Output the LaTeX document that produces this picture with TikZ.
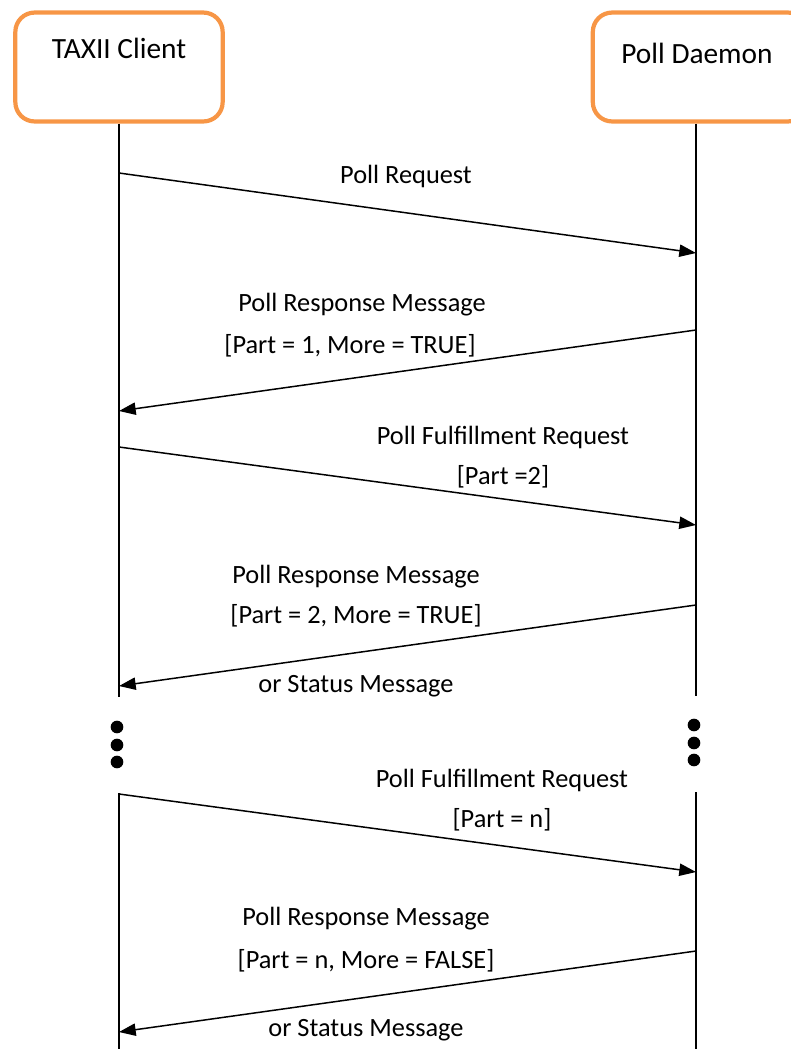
\documentclass[tikz,border=0pt]{standalone}
\usepackage{fontspec}
\setmainfont{Carlito}
\usetikzlibrary{arrows.meta}
\definecolor{boxorange}{HTML}{F79646}

\begin{document}
\begin{tikzpicture}[x=0.02cm, y=-0.02cm,
		actor/.style={draw=boxorange, line width=2.4pt, rounded corners=11pt, minimum width=118pt, minimum height=62pt, inner sep=0pt},
		lifeline/.style={line width=0.9pt},
		msg/.style={line width=0.85pt, -{Triangle[length=9.5pt, width=7pt]}},
		txt/.style={font=\fontsize{15pt}{18pt}\selectfont, inner sep=0pt},
		actortxt/.style={font=\fontsize{16.7pt}{20pt}\selectfont, inner sep=0pt},
		dot/.style={circle, fill=black, minimum size=7.2pt, inner sep=0pt}]
	\useasboundingbox (0,0) rectangle (791,1049);
	% \draw[very thin, gray, dashed](0,0)grid[step=50](791,1049);

	% the two parties
	\node[actor] (client) at (119,67) {};
	\node[actor, minimum width=122pt] (daemon) at (700,67) {};
	\node[actortxt] (clientname) at (119,48) {TAXII Client};
	\node[actortxt] (daemonname) at (697,53) {Poll Daemon};

	% lifelines, broken where the dots are
	\coordinate (c1) at (119,697);
	\coordinate (d1) at (696,696);
	\coordinate (c2) at (119,793);
	\coordinate (d2) at (696,792);
	\coordinate (cend) at (119,1049);
	\coordinate (dend) at (696,1049);
	\draw[lifeline] (client.south) -- (c1);
	\draw[lifeline] (daemon.south -| d1) -- (d1);
	\draw[lifeline] (c2) -- (cend);
	\draw[lifeline] (d2) -- (dend);

	\node[dot] (cdota) at (117,727) {};
	\node[dot] (cdotb) at (117,745) {};
	\node[dot] (cdotc) at (117,762) {};
	\node[dot] (ddota) at (694,725) {};
	\node[dot] (ddotb) at (694,743) {};
	\node[dot] (ddotc) at (694,760) {};

	% message ends on the lifelines
	\coordinate (req_from) at (119,173);
	\coordinate (req_to) at (696,253);
	\coordinate (resp1_from) at (696,330);
	\coordinate (resp1_to) at (119,411);
	\coordinate (ful2_from) at (119,447);
	\coordinate (ful2_to) at (696,525);
	\coordinate (resp2_from) at (696,605);
	\coordinate (resp2_to) at (119,686);
	\coordinate (fuln_from) at (119,794);
	\coordinate (fuln_to) at (696,872);
	\coordinate (respn_from) at (696,951);
	\coordinate (respn_to) at (119,1032);

	\draw[msg] (req_from) -- (req_to);
	\draw[msg] (resp1_from) -- (resp1_to);
	\draw[msg] (ful2_from) -- (ful2_to);
	\draw[msg] (resp2_from) -- (resp2_to);
	\draw[msg] (fuln_from) -- (fuln_to);
	\draw[msg] (respn_from) -- (respn_to);

	% labels
	\node[txt] (reqlabel) at (406,176) {Poll Request};
	\node[txt] (resp1a) at (362,305) {Poll Response Message};
	\node[txt] (resp1b) at (350,346) {[Part = 1, More = TRUE]};
	\node[txt] (ful2a) at (503,437) {Poll Fulfillment Request};
	\node[txt] (ful2b) at (503,477) {[Part =2]};
	\node[txt] (resp2a) at (356,577) {Poll Response Message};
	\node[txt] (resp2b) at (356,616) {[Part = 2, More = TRUE]};
	\node[txt] (resp2c) at (356,686) {or Status Message};
	\node[txt] (fulna) at (502,780) {Poll Fulfillment Request};
	\node[txt] (fulnb) at (502,820) {[Part = n]};
	\node[txt] (respna) at (366,919) {Poll Response Message};
	\node[txt] (respnb) at (366,961) {[Part = n, More = FALSE]};
	\node[txt] (respnc) at (366,1030) {or Status Message};
\end{tikzpicture}
\end{document}
